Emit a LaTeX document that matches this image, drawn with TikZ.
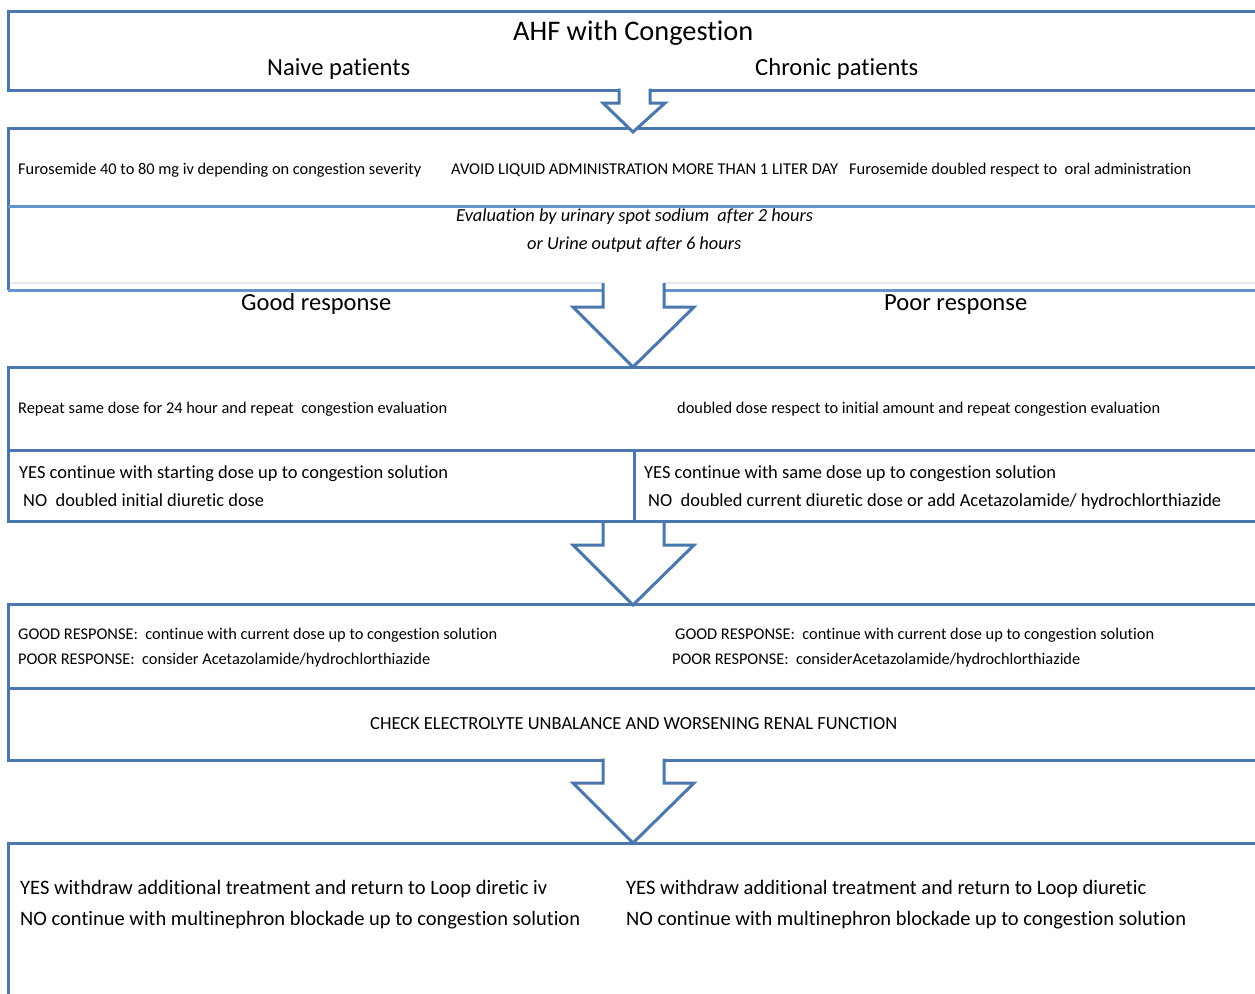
\documentclass[tikz,border=0pt]{standalone}
\usepackage{fontspec}
\setmainfont{Carlito}[Ligatures={NoCommon}]
\usepackage{graphicx}
\definecolor{bx}{RGB}{74,119,174}
\definecolor{bxl}{RGB}{100,148,200}
\definecolor{faint}{RGB}{230,234,245}
\newcommand\fw[2]{\resizebox{#1pt}{!}{#2}}
\begin{document}
\begin{tikzpicture}[x=1pt,y=-1pt,
  txt/.style={inner sep=0pt, anchor=base west, text=black},
  box/.style={draw=bx, line width=3pt},
  boxl/.style={draw=bxl, line width=3pt},
  arr/.style={draw=bx, line width=3pt, line join=miter}]
\useasboundingbox (0,0) rectangle (1255,993);
\begin{scope}
\clip (0,0) rectangle (1255,993);
% boxes
\draw[box] (1280,11) -- (8,11) -- (8,90) -- (1280,90);
\draw[faint, line width=2pt] (8,283) -- (1280,283);
\draw[box] (1280,128) -- (8,128) -- (8,290);
\draw[boxl] (8,290) -- (1280,290);
\draw[boxl] (8,206) -- (1280,206);
\draw[box] (1280,367) -- (8,367) -- (8,521) -- (1280,521);
\draw[box] (8,450) -- (1280,450);
\draw[box] (634,450) -- (634,521);
\draw[box] (1280,604) -- (8,604) -- (8,760) -- (1280,760);
\draw[box] (8,688) -- (1280,688);
\draw[box] (1280,843) -- (8,843) -- (8,1000);
% block arrows
\fill[white] (619,87) -- (619,103) -- (603,103) -- (633,132) -- (665,103) -- (650,103) -- (650,87) -- cycle;
\draw[arr] (619,88.5) -- (619,103) -- (603,103) -- (633,132) -- (665,103) -- (650,103) -- (650,88.5);
\fill[white] (603,280) -- (603,307) -- (573,307) -- (633,367) -- (694,307) -- (664,307) -- (664,280) -- cycle;
\draw[faint, line width=2pt] (664,283) -- (1280,283);
\draw[arr] (603,283) -- (603,307) -- (573,307) -- (633,367) -- (694,307) -- (664,307) -- (664,283);
\fill[white] (603,523) -- (603,545) -- (573,545) -- (633,605) -- (694,545) -- (664,545) -- (664,523) -- cycle;
\draw[arr] (603,521) -- (603,545) -- (573,545) -- (633,605) -- (694,545) -- (664,545) -- (664,521);
\fill[white] (603,757) -- (603,783) -- (573,783) -- (633,843) -- (694,783) -- (664,783) -- (664,757) -- cycle;
\draw[arr] (603,758.5) -- (603,783) -- (573,783) -- (633,843) -- (694,783) -- (664,783) -- (664,758.5);
\end{scope}
% texts
\node[txt] (title) at (513,40) {\fw{240}{AHF with Congestion}};
\node[txt] (naive) at (267,75) {\fw{143}{Naive patients}};
\node[txt] (chronic) at (755,75) {\fw{163}{Chronic patients}};
\node[txt] (furo1) at (18,174) {\fw{403}{Furosemide 40 to 80 mg iv depending on congestion severity}};
\node[txt] (avoid) at (451,174) {\fw{387}{AVOID LIQUID ADMINISTRATION MORE THAN 1 LITER DAY}};
\node[txt] (furo2) at (849,174) {\fw{342}{Furosemide doubled respect to\ \ oral administration}};
\node[txt] (eval1) at (456,221) {\fw{357}{\itshape Evaluation by urinary spot sodium\ \ after 2 hours}};
\node[txt] (eval2) at (527,249) {\fw{214}{\itshape or Urine output after 6 hours}};
\node[txt] (good) at (241,310) {\fw{150}{Good response}};
\node[txt] (poor) at (884,310) {\fw{143}{Poor response}};
\node[txt] (rep) at (18,413) {\fw{429}{Repeat same dose for 24 hour and repeat\ \ congestion evaluation}};
\node[txt] (dbl) at (677,413) {\fw{483}{doubled dose respect to initial amount and repeat congestion evaluation}};
\node[txt] (yesL) at (19,478) {\fw{429}{YES continue with starting dose up to congestion solution}};
\node[txt] (noL) at (23,506) {\fw{241}{NO\ \ doubled initial diuretic dose}};
\node[txt] (yesR) at (644,478) {\fw{412}{YES continue with same dose up to congestion solution}};
\node[txt] (noR) at (648,506) {\fw{573}{NO\ \ doubled current diuretic dose or add Acetazolamide/ hydrochlorthiazide}};
\node[txt] (goodL) at (18,639) {\fw{479}{GOOD RESPONSE:\ \ continue with current dose up to congestion solution}};
\node[txt] (poorL) at (18,664) {\fw{412}{POOR RESPONSE:\ \ consider Acetazolamide/hydrochlorthiazide}};
\node[txt] (goodR) at (675,639) {\fw{479}{GOOD RESPONSE:\ \ continue with current dose up to congestion solution}};
\node[txt] (poorR) at (672,664) {\fw{408}{POOR RESPONSE:\ \ considerAcetazolamide/hydrochlorthiazide}};
\node[txt] (check) at (370,729) {\fw{527}{CHECK ELECTROLYTE UNBALANCE AND WORSENING RENAL FUNCTION}};
\node[txt] (yes5L) at (20,894) {\fw{527}{YES withdraw additional treatment and return to Loop diretic iv}};
\node[txt] (no5L) at (20,925) {\fw{560}{NO continue with multinephron blockade up to congestion solution}};
\node[txt] (yes5R) at (626,894) {\fw{520}{YES withdraw additional treatment and return to Loop diuretic}};
\node[txt] (no5R) at (626,925) {\fw{560}{NO continue with multinephron blockade up to congestion solution}};
\end{tikzpicture}
\end{document}
